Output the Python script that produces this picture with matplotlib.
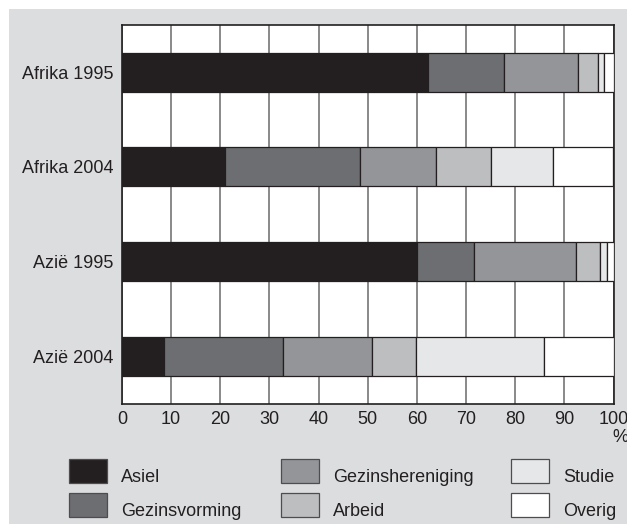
"""Herkomst naar migratiemotief: gestapelde horizontale balken."""

import matplotlib

matplotlib.use("Agg")
import matplotlib.pyplot as plt
from matplotlib.patches import Rectangle

plt.rcParams["font.family"] = ["Liberation Sans", "DejaVu Sans"]

groups = ["Afrika 1995", "Afrika 2004", "Azië 1995", "Azië 2004"]
motives = ["Asiel", "Gezinsvorming", "Gezinshereniging", "Arbeid", "Studie", "Overig"]

asiel = [62.2, 21.0, 60.0, 8.5]
gezinsvorming = [15.5, 27.5, 11.7, 24.2]
gezinshereniging = [15.0, 15.3, 20.6, 18.1]
arbeid = [4.2, 11.3, 4.9, 9.0]
studie = [1.1, 12.6, 1.4, 26.1]
overig = [2.0, 12.3, 1.4, 14.1]

x_ticks = [0, 10, 20, 30, 40, 50, 60, 70, 80, 90, 100]

colors = ["#231f20", "#6d6e71", "#939598", "#bcbec0", "#e6e7e8", "#ffffff"]
edge = "#231f20"
panel_bg = "#dcdddf"
FS = 13

series = [asiel, gezinsvorming, gezinshereniging, arbeid, studie, overig]

fig = plt.figure(figsize=(6.27, 5.24), dpi=100)
W, H = 627, 524

# grey panel behind everything
fig.add_artist(Rectangle((9 / W, 0), 1 - 9 / W, 1 - 9 / H, transform=fig.transFigure,
                         facecolor=panel_bg, edgecolor="none", zorder=-10))

ax = fig.add_axes([122 / W, 1 - 404 / H, (613.5 - 122) / W, (404 - 24.7) / H])
ax.set_facecolor("white")

ypos = list(range(len(groups)))
left = [0.0] * len(groups)
for vals, col in zip(series, colors):
    ax.barh(ypos, vals, left=left, height=0.41, color=col, edgecolor=edge,
            linewidth=0.9, zorder=3)
    left = [l + v for l, v in zip(left, vals)]

ax.set_xlim(0, 100)
ax.set_ylim(3.5, -0.5)
ax.set_xticks(x_ticks)
ax.set_xticklabels([str(t) for t in x_ticks], fontsize=FS, color="#231f20")
ax.set_yticks(ypos)
ax.set_yticklabels(groups, fontsize=FS, color="#231f20")
ax.tick_params(axis="y", length=0, pad=6)
ax.tick_params(axis="x", length=0, pad=5)
ax.xaxis.grid(True, color="#808080", linewidth=1.3, zorder=1)
ax.set_axisbelow(True)
for sp in ax.spines.values():
    sp.set_color(edge)
    sp.set_linewidth(1.2)

fig.text(620 / W, 1 - 437 / H, "%", fontsize=FS, color="#231f20",
         ha="center", va="center")

# legend, three columns of two
col_x = [69, 281, 511]
row_y = [471, 505]
for i, (name, col) in enumerate(zip(motives, colors)):
    cx = col_x[i // 2]
    cy = row_y[i % 2]
    fig.add_artist(Rectangle((cx / W, 1 - (cy + 12) / H), 38 / W, 24 / H,
                             transform=fig.transFigure, facecolor=col,
                             edgecolor="#4d4d4f", linewidth=0.9))
    fig.text((cx + 52) / W, 1 - (cy + 6) / H, name, fontsize=FS,
             color="#231f20", ha="left", va="center")

fig.savefig("out.png", dpi=100)
